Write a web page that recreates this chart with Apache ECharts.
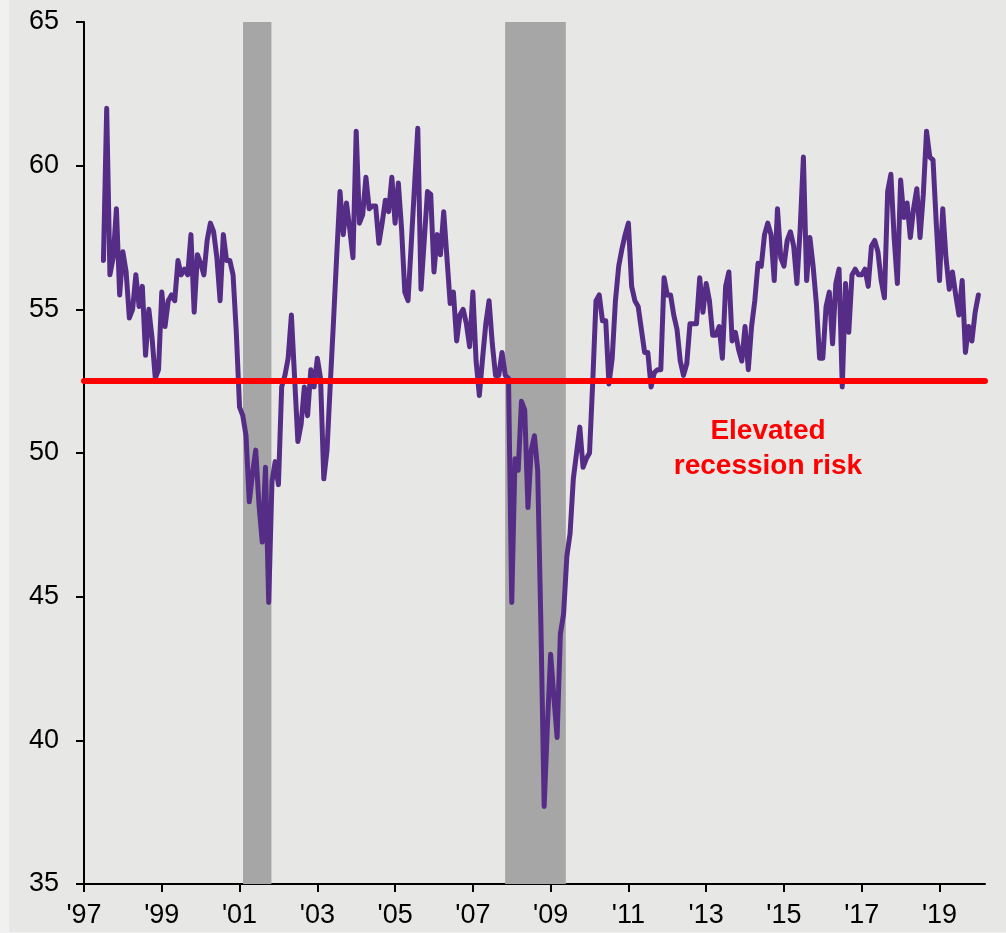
<!DOCTYPE html>
<html><head><meta charset="utf-8">
<script src="https://cdn.jsdelivr.net/npm/echarts@6.0.0/dist/echarts.min.js"></script>
<style>
html,body{margin:0;padding:0;background:#f1f1f1;width:1006px;height:933px;overflow:hidden;}
#c{position:absolute;left:9px;top:0;width:997px;height:932px;background:#e7e7e6;}
</style></head><body><div id="c"></div>
<script>
// Monthly index values starting July 1997
const startYear = 1997;
const startMonth = 7;
const values = [
  56.7, 62.0, 56.2, 56.8, 58.5, 55.5,
  57.0, 56.3, 54.7, 55.0, 56.2, 55.1, 55.8, 53.4, 55.0, 54.0, 52.6, 52.9,
  55.6, 54.4, 55.3, 55.5, 55.3, 56.7, 56.2, 56.4, 56.2, 57.6, 54.9, 56.9,
  56.6, 56.2, 57.4, 58.0, 57.7, 56.8, 55.3, 57.6, 56.7, 56.7, 56.2, 54.2,
  51.6, 51.3, 50.6, 48.3, 49.3, 50.1, 48.2, 46.9, 49.5, 44.8, 49.0, 49.7,
  48.9, 52.3, 52.7, 53.3, 54.8, 52.6, 50.4, 51.0, 52.3, 51.3, 52.9, 52.3,
  53.3, 52.6, 49.1, 50.1, 52.4, 54.6, 56.9, 59.1, 57.6, 58.7, 57.8, 56.8,
  61.2, 58.0, 58.3, 59.6, 58.5, 58.6, 58.6, 57.3, 58.0, 58.8, 58.4, 59.6,
  58.0, 59.4, 57.8, 55.6, 55.3, 57.3, 59.3, 61.3, 55.7, 57.4, 59.1, 59.0,
  56.3, 57.6, 56.9, 58.4, 56.8, 55.2, 55.6, 53.9, 54.8, 55.0, 54.5, 53.7,
  55.6, 53.2, 52.0, 53.3, 54.5, 55.3, 53.8, 52.7, 52.7, 53.5, 52.7, 52.6,
  44.8, 49.8, 49.4, 51.8, 51.5, 48.1, 50.1, 50.6, 49.4, 44.0, 37.7, 40.5,
  43.0, 41.5, 40.1, 43.7, 44.4, 46.4, 47.2, 49.1, 50.0, 50.9, 49.5, 49.8,
  50.0, 52.5, 55.3, 55.5, 54.6, 54.6, 52.4, 53.3, 55.3, 56.5, 57.1, 57.6,
  58.0, 55.8, 55.3, 55.1, 54.3, 53.5, 53.5, 52.3, 52.8, 52.9, 52.9, 56.1,
  55.5, 55.5, 54.8, 54.3, 53.2, 52.7, 53.1, 54.5, 54.5, 54.5, 56.1, 54.9,
  55.9, 55.3, 54.1, 54.1, 54.4, 53.3, 55.8, 56.3, 53.9, 54.2, 53.6, 53.2,
  54.4, 52.9, 54.4, 55.3, 56.6, 56.5, 57.6, 58.0, 57.6, 56.0, 58.5, 56.8,
  56.5, 57.4, 57.7, 57.2, 55.9, 57.8, 60.3, 56.0, 57.5, 56.5, 55.2, 53.3,
  53.3, 55.1, 55.6, 53.8, 55.9, 56.4, 52.3, 55.9, 54.2, 56.2, 56.4, 56.2,
  56.2, 56.4, 55.8, 57.2, 57.4, 57.0, 56.0, 55.4, 59.1, 59.7, 57.5, 55.9,
  59.5, 58.2, 58.7, 57.5, 58.5, 59.2, 57.5, 59.0, 61.2, 60.3, 60.2, 58.0,
  56.0, 58.5, 56.8, 55.7, 56.3, 55.5, 54.8, 56.0, 53.5, 54.4, 53.9, 54.9,
  55.5
];
const recessions = [[2001.09, 2001.82], [2007.83, 2009.39]];
const threshold = 52.5;
const xTickYears = [1997, 1999, 2001, 2003, 2005, 2007, 2009, 2011, 2013, 2015, 2017, 2019];
const xMin = 1997, xMax = 2020.17;
const yMin = 35, yMax = 65, yStep = 5;
const annotation = ['Elevated', 'recession risk'];

const seriesData = values.map((v, k) => [startYear + (startMonth - 1 + k) / 12, v]);
const FONT = '"Liberation Sans", Arial, sans-serif';

const chart = echarts.init(document.getElementById('c'), null, {renderer: 'canvas'});
chart.setOption({
  animation: false,
  backgroundColor: '#e7e7e6',
  grid: {left: 75, right: 21, top: 22, bottom: 48, containLabel: false},
  xAxis: {
    type: 'value', min: xMin, max: xMax, interval: 2,
    axisLine: {show: true, lineStyle: {color: '#000', width: 2}},
    axisTick: {show: true, length: 8, lineStyle: {color: '#000', width: 2}, customValues: xTickYears},
    axisLabel: {customValues: xTickYears, color: '#000', fontSize: 27, fontFamily: FONT, margin: 18,
      formatter: v => "'" + String(Math.round(v)).slice(2)},
    splitLine: {show: false}
  },
  yAxis: {
    type: 'value', min: yMin, max: yMax, interval: yStep,
    axisLine: {show: true, lineStyle: {color: '#000', width: 2}},
    axisTick: {show: true, length: 8, lineStyle: {color: '#000', width: 2}},
    axisLabel: {color: '#000', fontSize: 27, fontFamily: FONT, margin: 25},
    splitLine: {show: false}
  },
  series: [
    {
      type: 'line', data: [], z: 1, silent: true,
      markArea: {silent: true, itemStyle: {color: '#a6a6a6'},
        data: recessions.map(r => [{xAxis: r[0]}, {xAxis: r[1]}])}
    },
    {
      type: 'line', data: seriesData, z: 3, symbol: 'none', silent: true,
      lineStyle: {color: '#562d86', width: 5, join: 'round', cap: 'round'}
    },
    {
      type: 'line', data: [], z: 5, silent: true,
      markLine: {silent: true, symbol: ['none', 'none'], label: {show: false},
        lineStyle: {color: '#ff0000', width: 6, type: 'solid', cap: 'round'},
        data: [{yAxis: threshold}]}
    }
  ],
  graphic: [
    {type: 'text', x: 759, y: 431, z: 10, style: {text: annotation[0], fill: '#ff0000',
      font: 'bold 28px ' + FONT, textAlign: 'center', textVerticalAlign: 'middle'}},
    {type: 'text', x: 759, y: 466, z: 10, style: {text: annotation[1], fill: '#ff0000',
      font: 'bold 28px ' + FONT, textAlign: 'center', textVerticalAlign: 'middle'}}
  ]
});
</script></body></html>
